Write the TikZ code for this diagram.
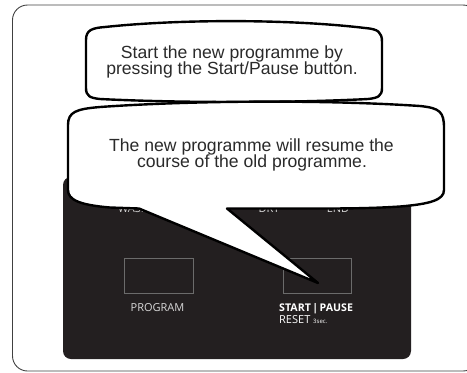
\documentclass[tikz,border=0pt]{standalone}
\usepackage{fontspec}
\setmainfont{Liberation Sans}
\newfontfamily\panelfont{Open Sans}
\definecolor{paneldark}{HTML}{231F20}
\definecolor{btnedge}{HTML}{6B6B6B}
\definecolor{paneltxt}{HTML}{D8D8D8}
\definecolor{bubtxt}{HTML}{2A2A2A}
\tikzset{
  bubble/.style={draw=black, line width=2.4pt, fill=white, line join=round},
  bubtext/.style={inner sep=0pt, anchor=base, text=bubtxt, font=\fontsize{17.6}{17}\selectfont},
  btn/.style={draw=btnedge, line width=0.9pt},
  ptext/.style={inner sep=0pt, anchor=base, text=paneltxt, font=\panelfont\fontsize{11}{13}\selectfont},
  pbold/.style={inner sep=0pt, anchor=base west, text=white, font=\panelfont\bfseries\fontsize{10.6}{13}\selectfont},
}
\begin{document}
\begin{tikzpicture}[x=1pt,y=-1pt]
\useasboundingbox (0,0) rectangle (467,373);
% outer frame
\draw[draw=black!75, line width=0.9pt, rounded corners=15pt] (12.5,5) rectangle (478,371);
% dark panel
\fill[paneldark, rounded corners=8pt] (63,177) rectangle (411,359);
% panel labels (partly hidden)
\node[ptext, anchor=base west] (wash) at (118,212.5) {WASH};
\node[ptext] (dry) at (269,212.5) {DRY};
\node[ptext] (endl) at (338,212.5) {END};
% buttons
\draw[btn] (124,258) rectangle (193,293);
\draw[btn] (283,258) rectangle (351,293);
\node[ptext] (prog) at (157.5,311) {PROGRAM};
\node[pbold] (sp) at (279,311) {START\kern1.5pt|\kern1.5pt PAUSE};
\node[inner sep=0pt, anchor=base west, text=white, font=\panelfont\fontsize{11}{13}\selectfont] (reset) at (279,323.5) {RESET {\fontsize{6}{7}\selectfont 3sec.}};
% bubble 1
\draw[bubble] (86,40) .. controls (86,30) and (92,28) .. (105,27)
  .. controls (180,19) and (290,19) .. (365,28)
  .. controls (378,29) and (382,32) .. (382,42) -- (382,88)
  .. controls (382,96) and (378,98) .. (368,99)
  .. controls (290,103) and (180,103) .. (100,99)
  .. controls (90,98) and (86,96) .. (86,88) -- cycle;
\node[bubtext] (t1a) at (232,58) {Start the new programme by};
\node[bubtext] (t1b) at (232,74) {pressing the Start/Pause button.};
% bubble 2 with tail
\draw[bubble] (68,125) .. controls (68,112) and (76,109) .. (100,107)
  .. controls (200,100) and (330,100) .. (420,106)
  .. controls (440,108) and (444,112) .. (444,128) -- (444,190)
  .. controls (444,200) and (430,204) .. (400,206.5)
  .. controls (370,208.5) and (340,208.5) .. (320,208.5) -- (227,208.5) -- (318,283) -- (139,208.5)
  -- (110,207.5) .. controls (80,205) and (68,200) .. (68,190) -- cycle;
\node[bubtext] (t2a) at (251.5,151) {The new programme will resume the};
\node[bubtext] (t2b) at (252,167) {course of the old programme.};
\end{tikzpicture}
\end{document}
